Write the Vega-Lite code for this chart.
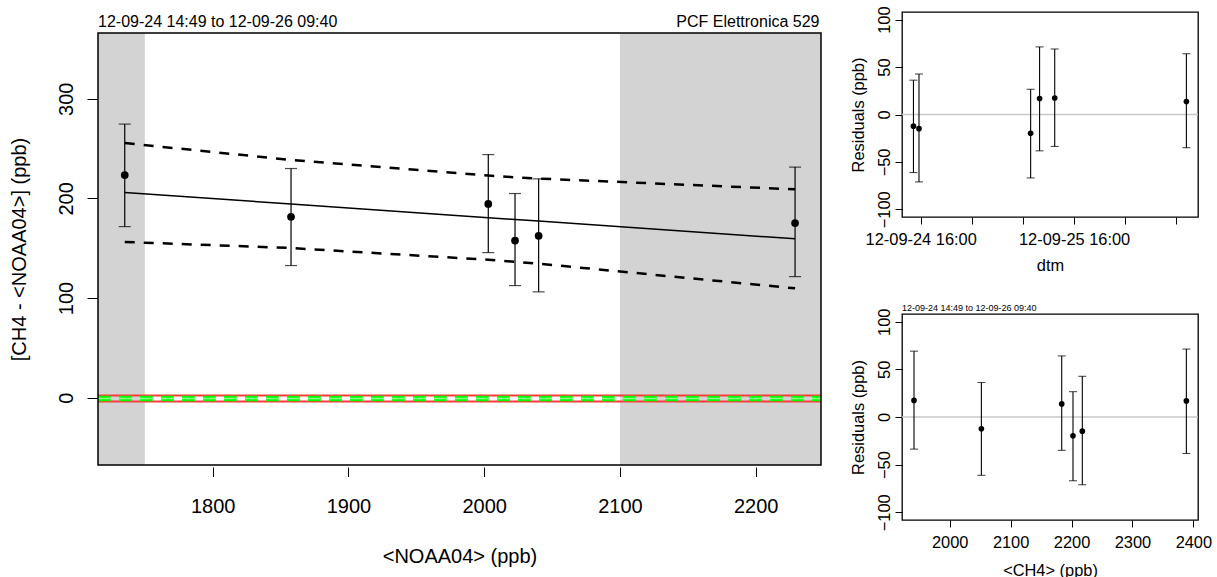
{
  "$schema": "https://vega.github.io/schema/vega-lite/v6.json",
  "autosize": {"type": "none"},
  "padding": {"left": 98, "top": 12, "right": 1119, "bottom": 565},
  "background": "white",
  "config": {
    "font": "Liberation Sans",
    "axis": {"grid": false, "domain": false, "tickColor": "black", "tickWidth": 1, "labelColor": "black", "titleColor": "black", "labelFont": "Liberation Sans", "titleFont": "Liberation Sans", "titleFontWeight": "normal", "labelFlush": false, "labelOverlap": false, "labelBound": false},
    "text": {"font": "Liberation Sans", "color": "black"}
  },
  "datasets": {
    "main": [
      {"noaa": 1735.2, "diff": 223.4, "lo": 171.7, "hi": 274.6, "fit": 205.9, "upper": 255.5, "lower": 156.3},
      {"noaa": 1857.7, "diff": 181.5, "lo": 132.6, "hi": 230.0, "fit": 194.4, "upper": 238.6, "lower": 150.2},
      {"noaa": 2003.0, "diff": 194.5, "lo": 145.6, "hi": 244.0, "fit": 180.7, "upper": 223.0, "lower": 138.4},
      {"noaa": 2022.7, "diff": 157.7, "lo": 112.5, "hi": 204.9, "fit": 178.8, "upper": 221.2, "lower": 136.4},
      {"noaa": 2040.1, "diff": 162.4, "lo": 106.2, "hi": 219.6, "fit": 177.2, "upper": 219.9, "lower": 134.5},
      {"noaa": 2229.0, "diff": 175.2, "lo": 121.5, "hi": 231.4, "fit": 159.4, "upper": 209.1, "lower": 109.7}
    ],
    "resid": [
      {"dtm": "2012-09-24T14:52:00Z", "ch4": 2052.0, "res": -12.3, "lo": -61.2, "hi": 36.2},
      {"dtm": "2012-09-24T15:44:00Z", "ch4": 2217.7, "res": -14.9, "lo": -71.1, "hi": 42.7},
      {"dtm": "2012-09-25T09:12:00Z", "ch4": 2202.4, "res": -19.8, "lo": -66.9, "hi": 26.6},
      {"dtm": "2012-09-25T10:36:00Z", "ch4": 2388.5, "res": 16.9, "lo": -38.3, "hi": 71.3},
      {"dtm": "2012-09-25T12:58:00Z", "ch4": 1941.4, "res": 17.4, "lo": -33.7, "hi": 69.1},
      {"dtm": "2012-09-26T09:34:00Z", "ch4": 2183.9, "res": 13.7, "lo": -35.0, "hi": 64.1}
    ],
    "shade": [
      {"from": 1715.5, "to": 1750},
      {"from": 2100, "to": 2248.1}
    ],
    "one": [{}]
  },
  "bounds": "flush",
  "spacing": 81,
  "hconcat": [
    {
      "width": 723,
      "height": 453,
      "view": {"stroke": null},
      "layer": [
        {
          "data": {"name": "shade"},
          "mark": {"type": "rect", "color": "#d3d3d3", "clip": true},
          "encoding": {
            "x": {"field": "from", "type": "quantitative", "scale": {"domain": [1715.5, 2248.1], "nice": false, "zero": false},
              "axis": {"values": [1800, 1900, 2000, 2100, 2200], "format": "d", "title": "<NOAA04> (ppb)", "offset": 2, "tickSize": 9.5, "labelFontSize": 20, "labelPadding": 20, "titleFontSize": 20, "titleBaseline": "alphabetic", "titleY": 95}},
            "x2": {"field": "to"},
            "y": {"datum": -67.6, "type": "quantitative", "scale": {"domain": [-67.6, 387.1], "nice": false, "zero": false},
              "axis": {"values": [0, 100, 200, 300], "format": "d", "title": "[CH4 - <NOAA04>] (ppb)", "tickSize": 11, "labelAngle": 270, "labelAlign": "center", "labelBaseline": "alphabetic", "labelPadding": 14.3, "labelFontSize": 20, "titleFontSize": 20, "titleBaseline": "alphabetic", "titleX": -73, "titleY": 237}},
            "y2": {"datum": 366}
          }
        },
        {
          "data": {"name": "one"},
          "mark": {"type": "rule", "color": "#ff3a3a", "strokeWidth": 2, "clip": true},
          "encoding": {"y": {"datum": 2.2, "type": "quantitative"}, "x": {"datum": 1715.5, "type": "quantitative"}, "x2": {"datum": 2248.1}}
        },
        {
          "data": {"name": "one"},
          "mark": {"type": "rule", "color": "#ff3a3a", "strokeWidth": 2, "clip": true},
          "encoding": {"y": {"datum": -3.8, "type": "quantitative"}, "x": {"datum": 1715.5, "type": "quantitative"}, "x2": {"datum": 2248.1}}
        },
        {
          "data": {"name": "one"},
          "mark": {"type": "rule", "color": "#00ff00", "strokeWidth": 5.5, "strokeDash": [12.7, 8.3], "clip": true},
          "encoding": {"y": {"datum": -0.8, "type": "quantitative"}, "x": {"datum": 1715.5, "type": "quantitative"}, "x2": {"datum": 2248.1}}
        },
        {
          "data": {"name": "one"},
          "mark": {"type": "rule", "color": "#8cff8c", "strokeWidth": 1.5, "strokeDash": [12.7, 8.3], "clip": true},
          "encoding": {"y": {"datum": -0.8, "type": "quantitative"}, "x": {"datum": 1715.5, "type": "quantitative"}, "x2": {"datum": 2248.1}}
        },
        {
          "data": {"name": "main"},
          "mark": {"type": "line", "color": "black", "strokeWidth": 1.5, "clip": true},
          "encoding": {"x": {"field": "noaa", "type": "quantitative"}, "y": {"field": "fit", "type": "quantitative"}}
        },
        {
          "data": {"name": "main"},
          "mark": {"type": "line", "color": "black", "strokeWidth": 2.5, "strokeDash": [10, 9], "clip": true},
          "encoding": {"x": {"field": "noaa", "type": "quantitative"}, "y": {"field": "upper", "type": "quantitative"}}
        },
        {
          "data": {"name": "main"},
          "mark": {"type": "line", "color": "black", "strokeWidth": 2.5, "strokeDash": [10, 9], "clip": true},
          "encoding": {"x": {"field": "noaa", "type": "quantitative"}, "y": {"field": "lower", "type": "quantitative"}}
        },
        {
          "data": {"name": "main"},
          "mark": {"type": "errorbar", "color": "black", "ticks": {"size": 12, "thickness": 1.2, "color": "black"}, "rule": {"strokeWidth": 1.2, "color": "black"}},
          "encoding": {"x": {"field": "noaa", "type": "quantitative", "title": "<NOAA04> (ppb)"}, "y": {"field": "lo", "type": "quantitative", "title": "[CH4 - <NOAA04>] (ppb)"}, "y2": {"field": "hi"}}
        },
        {
          "data": {"name": "main"},
          "mark": {"type": "circle", "color": "black", "size": 60, "opacity": 1},
          "encoding": {"x": {"field": "noaa", "type": "quantitative", "title": "<NOAA04> (ppb)"}, "y": {"field": "diff", "type": "quantitative", "title": "[CH4 - <NOAA04>] (ppb)"}}
        },
        {
          "data": {"name": "one"},
          "mark": {"type": "rect", "filled": false, "fill": null, "stroke": "black", "strokeWidth": 1.5},
          "encoding": {"x": {"datum": 1715.5, "type": "quantitative"}, "x2": {"datum": 2248.1}, "y": {"datum": -67.6, "type": "quantitative"}, "y2": {"datum": 366}}
        },
        {
          "data": {"name": "one"},
          "mark": {"type": "text", "align": "left", "baseline": "alphabetic", "fontSize": 16, "dy": -6},
          "encoding": {"x": {"datum": 1715.5, "type": "quantitative"}, "y": {"datum": 366, "type": "quantitative"}, "text": {"value": "12-09-24 14:49 to 12-09-26 09:40"}}
        },
        {
          "data": {"name": "one"},
          "mark": {"type": "text", "align": "right", "baseline": "alphabetic", "fontSize": 16, "dy": -6, "dx": -1.5},
          "encoding": {"x": {"datum": 2248.1, "type": "quantitative"}, "y": {"datum": 366, "type": "quantitative"}, "text": {"value": "PCF Elettronica 529"}}
        }
      ]
    },
    {
      "bounds": "flush",
      "spacing": 97,
      "vconcat": [
        {
          "width": 296,
          "height": 205,
          "view": {"stroke": "black", "strokeWidth": 1.3, "fill": "white"},
          "data": {"name": "resid"},
          "layer": [
            {
              "data": {"name": "one"},
              "mark": {"type": "rule", "color": "#c8c8c8", "strokeWidth": 1.5},
              "encoding": {"y": {"datum": 0, "type": "quantitative", "scale": {"domain": [-108.1, 108.1], "nice": false, "zero": false},
                "axis": {"values": [-100, -50, 0, 50, 100], "format": "d", "title": "Residuals (ppb)", "tickSize": 7, "labelAngle": 270, "labelAlign": "center", "labelBaseline": "alphabetic", "labelPadding": 5.3, "labelFontSize": 16.4, "titleFontSize": 16.4, "titleBaseline": "alphabetic", "titleX": -39}}}
            },
            {
              "mark": {"type": "errorbar", "color": "black", "ticks": {"size": 8, "thickness": 1.1, "color": "black"}, "rule": {"strokeWidth": 1.1, "color": "black"}},
              "encoding": {
                "x": {"field": "dtm", "type": "temporal", "title": "dtm",
                  "scale": {"type": "utc", "domain": [{"year": 2012, "month": 9, "date": 24, "hours": 13, "minutes": 4, "seconds": 30, "utc": true}, {"year": 2012, "month": 9, "date": 26, "hours": 11, "minutes": 23, "utc": true}], "nice": false},
                  "axis": {"values": [
                    {"year": 2012, "month": 9, "date": 24, "hours": 16, "utc": true},
                    {"year": 2012, "month": 9, "date": 25, "hours": 0, "utc": true},
                    {"year": 2012, "month": 9, "date": 25, "hours": 8, "utc": true},
                    {"year": 2012, "month": 9, "date": 25, "hours": 16, "utc": true},
                    {"year": 2012, "month": 9, "date": 26, "hours": 0, "utc": true},
                    {"year": 2012, "month": 9, "date": 26, "hours": 8, "utc": true}],
                    "labelExpr": "utchours(datum.value) === 16 ? utcFormat(datum.value, '%y-%m-%d %H:%M') : ''",
                    "title": "dtm", "tickSize": 7, "labelPadding": 7, "labelFontSize": 16.4, "titleFontSize": 16.4, "titleBaseline": "alphabetic", "titleY": 53.5}},
                "y": {"field": "lo", "type": "quantitative", "title": "Residuals (ppb)"},
                "y2": {"field": "hi"}
              }
            },
            {
              "mark": {"type": "circle", "color": "black", "size": 32, "opacity": 1},
              "encoding": {"x": {"field": "dtm", "type": "temporal", "title": "dtm"}, "y": {"field": "res", "type": "quantitative", "title": "Residuals (ppb)"}}
            }
          ]
        },
        {
          "width": 296,
          "height": 206,
          "view": {"stroke": "black", "strokeWidth": 1.3, "fill": "white"},
          "data": {"name": "resid"},
          "layer": [
            {
              "data": {"name": "one"},
              "mark": {"type": "rule", "color": "#c8c8c8", "strokeWidth": 1.5},
              "encoding": {"y": {"datum": 0, "type": "quantitative", "scale": {"domain": [-108.1, 108.1], "nice": false, "zero": false},
                "axis": {"values": [-100, -50, 0, 50, 100], "format": "d", "title": "Residuals (ppb)", "tickSize": 7, "labelAngle": 270, "labelAlign": "center", "labelBaseline": "alphabetic", "labelPadding": 5.3, "labelFontSize": 16.4, "titleFontSize": 16.4, "titleBaseline": "alphabetic", "titleX": -39}}}
            },
            {
              "mark": {"type": "errorbar", "color": "black", "ticks": {"size": 8, "thickness": 1.1, "color": "black"}, "rule": {"strokeWidth": 1.1, "color": "black"}},
              "encoding": {
                "x": {"field": "ch4", "type": "quantitative", "title": "<CH4> (ppb)", "scale": {"domain": [1921.7, 2407.6], "nice": false, "zero": false},
                  "axis": {"values": [2000, 2100, 2200, 2300, 2400], "format": "d", "title": "<CH4> (ppb)", "tickSize": 7, "labelPadding": 7.5, "labelFontSize": 16.4, "titleFontSize": 16.4, "titleBaseline": "alphabetic", "titleY": 55.7}},
                "y": {"field": "lo", "type": "quantitative", "title": "Residuals (ppb)"},
                "y2": {"field": "hi"}
              }
            },
            {
              "mark": {"type": "circle", "color": "black", "size": 32, "opacity": 1},
              "encoding": {"x": {"field": "ch4", "type": "quantitative", "title": "<CH4> (ppb)"}, "y": {"field": "res", "type": "quantitative", "title": "Residuals (ppb)"}}
            },
            {
              "data": {"name": "one"},
              "mark": {"type": "text", "align": "left", "baseline": "alphabetic", "fontSize": 9, "dy": -3.3},
              "encoding": {"x": {"datum": 1921.7, "type": "quantitative"}, "y": {"datum": 108.1, "type": "quantitative"}, "text": {"value": "12-09-24 14:49 to 12-09-26 09:40"}}
            }
          ]
        }
      ]
    }
  ]
}
